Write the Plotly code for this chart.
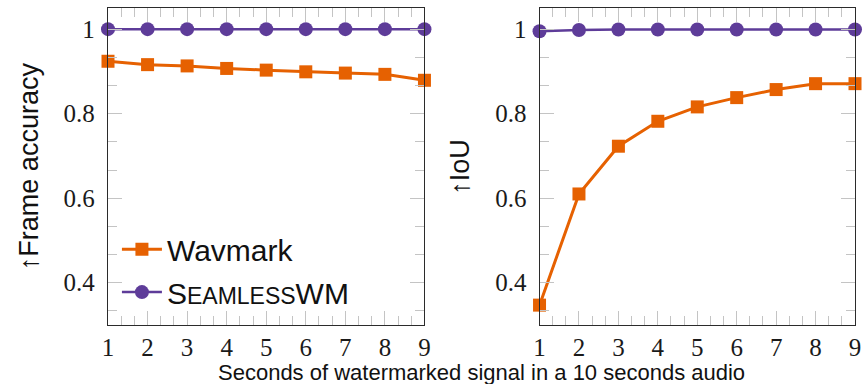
import plotly.graph_objects as go

# ---- data ----
seconds = [1, 2, 3, 4, 5, 6, 7, 8, 9]
wavmark_acc = [0.924, 0.916, 0.913, 0.907, 0.903, 0.899, 0.896, 0.893, 0.879]
seamless_acc = [1.0, 1.0, 1.0, 1.0, 1.0, 1.0, 1.0, 1.0, 1.0]
wavmark_iou = [0.347, 0.610, 0.723, 0.782, 0.816, 0.838, 0.857, 0.871, 0.871]
seamless_iou = [0.995, 0.998, 0.999, 0.999, 0.999, 0.999, 0.999, 0.999, 0.999]
y_tickvals = [0.4, 0.6, 0.8, 1.0]
y_ticktext = ["0.4", "0.6", "0.8", "1"]
x_ticktext = ["1", "2", "3", "4", "5", "6", "7", "8", "9"]

ORANGE = "#E66101"
PURPLE = "#5E3C99"
TICK = "#c4c4c4"
FRAME = "#2b2b2b"
SERIF = "Liberation Serif"
SANS = "Liberation Sans"

W, H = 868, 384
ML, MR, MT, MB = 108, 7, 7, 59
PW = W - ML - MR
PH = H - MT - MB


def px_x(p):
    return (p - ML) / PW


def px_y(p):
    return (H - MB - p) / PH


fig = go.Figure()

fig.add_trace(go.Scatter(
    x=seconds, y=wavmark_acc, mode="lines+markers", name="Wavmark",
    line=dict(color=ORANGE, width=3), marker=dict(symbol="square", size=13, color=ORANGE),
    cliponaxis=False, xaxis="x", yaxis="y", legend="legend"))
fig.add_trace(go.Scatter(
    x=seconds, y=seamless_acc, mode="lines+markers",
    name="S<span style='font-size:23px'>EAMLESS</span>WM",
    line=dict(color=PURPLE, width=2.5), marker=dict(symbol="circle", size=14, color=PURPLE),
    cliponaxis=False, xaxis="x", yaxis="y", legend="legend2"))
fig.add_trace(go.Scatter(
    x=seconds, y=wavmark_iou, mode="lines+markers", name="Wavmark", showlegend=False,
    line=dict(color=ORANGE, width=3), marker=dict(symbol="square", size=13, color=ORANGE),
    cliponaxis=False, xaxis="x2", yaxis="y2"))
fig.add_trace(go.Scatter(
    x=seconds, y=seamless_iou, mode="lines+markers", name="SeamlessWM", showlegend=False,
    line=dict(color=PURPLE, width=2.5), marker=dict(symbol="circle", size=14, color=PURPLE),
    cliponaxis=False, xaxis="x2", yaxis="y2"))

xcommon = dict(
    range=[1, 9], tickvals=seconds, ticktext=x_ticktext, ticks="inside", ticklen=14,
    tickcolor=TICK, tickwidth=1, showline=True, linecolor=FRAME, linewidth=1.3,
    mirror="ticks", showgrid=False, zeroline=False,
    tickfont=dict(family=SERIF, size=25, color="#1a1a1a"), ticklabelstandoff=0,
    minor=dict(tick0=1, dtick=1 / 3, ticks="inside", ticklen=9, tickcolor=TICK, tickwidth=1, showgrid=False),
)
ycommon = dict(
    range=[0.3, 1.05], tickvals=y_tickvals, ticktext=y_ticktext, ticks="inside", ticklen=14,
    tickcolor=TICK, tickwidth=1, showline=True, linecolor=FRAME, linewidth=1.3,
    mirror="ticks", showgrid=False, zeroline=False,
    tickfont=dict(family=SERIF, size=25, color="#1a1a1a"), ticklabelstandoff=7,
    minor=dict(tick0=0.4, dtick=0.2 / 3, ticks="inside", ticklen=9, tickcolor=TICK, tickwidth=1, showgrid=False),
)

legfont = dict(family=SANS, size=30, color="#111")

fig.update_layout(
    width=W, height=H, margin=dict(l=ML, r=MR, t=MT, b=MB),
    paper_bgcolor="white", plot_bgcolor="white",
    xaxis=dict(domain=[0, px_x(427)], anchor="y", **xcommon),
    yaxis=dict(domain=[0, 1], anchor="x", **ycommon),
    xaxis2=dict(domain=[px_x(543), 1], anchor="y2", **xcommon),
    yaxis2=dict(domain=[0, 1], anchor="x2", **ycommon),
    legend=dict(x=px_x(117), y=px_y(249), xanchor="left", yanchor="middle",
                font=legfont, bgcolor="rgba(0,0,0,0)", borderwidth=0, itemwidth=40),
    legend2=dict(x=px_x(117), y=px_y(292), xanchor="left", yanchor="middle",
                 font=legfont, bgcolor="rgba(0,0,0,0)", borderwidth=0, itemwidth=40),
    annotations=[
        dict(text="Seconds of watermarked signal in a 10 seconds audio", xref="paper", yref="paper",
             x=0.5, y=px_y(373), xanchor="center", yanchor="middle", showarrow=False,
             font=dict(family=SANS, size=22, color="#111")),
        dict(text="↑Frame accuracy", xref="paper", yref="paper", x=px_x(28), y=0.5,
             xanchor="center", yanchor="middle", textangle=-90, showarrow=False,
             font=dict(family=SANS, size=27, color="#111")),
        dict(text="↑IoU", xref="paper", yref="paper", x=px_x(462), y=0.5,
             xanchor="center", yanchor="middle", textangle=-90, showarrow=False,
             font=dict(family=SANS, size=27, color="#111")),
    ],
    showlegend=True,
)

fig.write_html("out.html")
